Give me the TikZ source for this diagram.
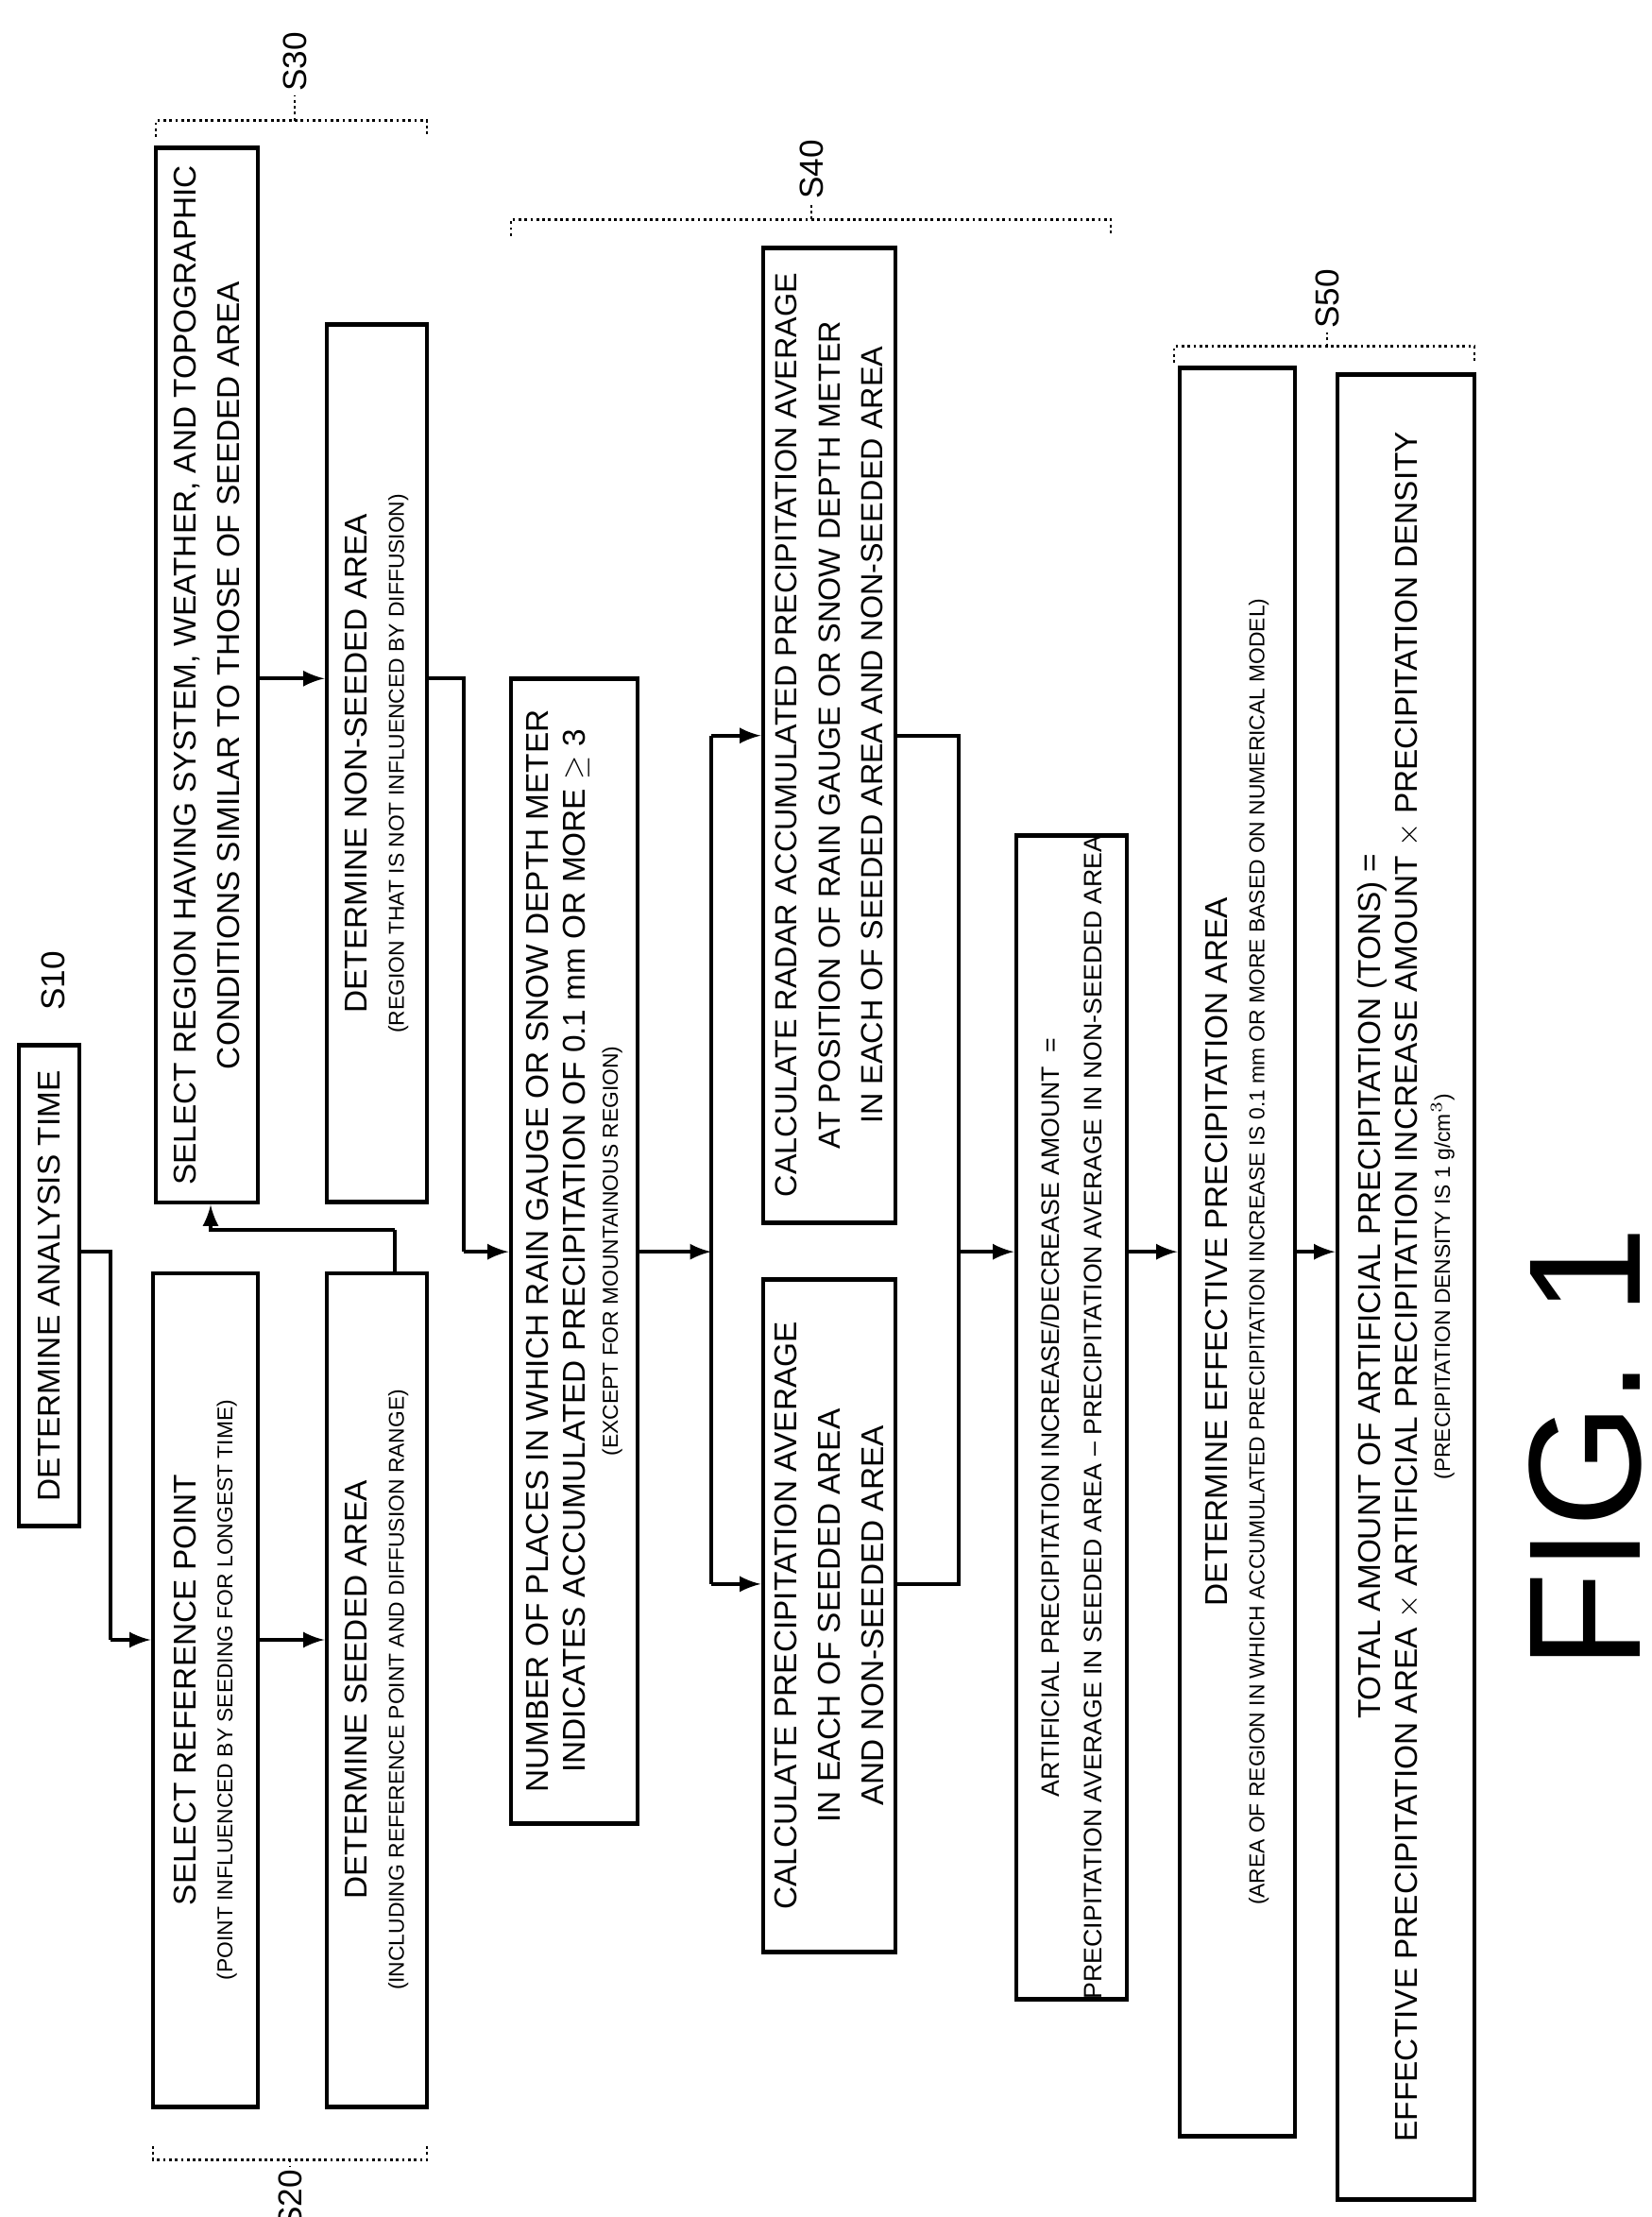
\documentclass[tikz,border=0pt]{standalone}
\usepackage{fontspec}
\setmainfont{Liberation Sans}
\usetikzlibrary{calc,positioning}

\begin{document}
\begin{tikzpicture}[
      x=0.1mm, y=-0.13426mm,
      box/.style={draw, line width=1.4pt, rotate=90, inner sep=0, align=center,
                  font={\fontsize{9.5}{13}\selectfont}},
      steplab/.style={rotate=90, inner sep=1pt, font={\fontsize{10}{11}\selectfont}},
      flow/.style={draw, line width=1.2pt, -latex},
      line/.style={draw, line width=1.2pt},
      brace/.style={draw, line width=0.8pt, densely dotted}
  ]
  \useasboundingbox (0,0) rectangle (1748,1748.1);

  \node[box, minimum width=50.9mm, minimum height=6.4mm] (dat) at (52,1014) {DETERMINE ANALYSIS TIME};
  \node[box, minimum width=88.2mm, minimum height=11.1mm] (srp) at (217.5,1332.5)
    {SELECT REFERENCE POINT\\[-2pt] {\fontsize{6.5}{8}\selectfont (POINT INFLUENCED BY SEEDING FOR LONGEST TIME)}};
  \node[box, minimum width=88.2mm, minimum height=10.6mm] (dsa) at (399,1332.5)
    {DETERMINE SEEDED AREA\\[-2pt] {\fontsize{6.5}{8}\selectfont (INCLUDING REFERENCE POINT AND DIFFUSION RANGE)}};
  \node[box, minimum width=111.6mm, minimum height=10.8mm] (sel) at (219,532.5)
    {SELECT REGION HAVING SYSTEM, WEATHER, AND TOPOGRAPHIC\\ CONDITIONS SIMILAR TO THOSE OF SEEDED AREA};
  \node[box, minimum width=92.9mm, minimum height=10.6mm] (nsa) at (399,602)
    {DETERMINE NON-SEEDED AREA\\[-2pt] {\fontsize{6.5}{8}\selectfont (REGION THAT IS NOT INFLUENCED BY DIFFUSION)}};
  \node[box, minimum width=121.2mm, minimum height=13.4mm] (np) at (608,986.5)
    {NUMBER OF PLACES IN WHICH RAIN GAUGE OR SNOW DEPTH METER\\[-2pt]
     INDICATES ACCUMULATED PRECIPITATION OF 0.1 mm OR MORE $\geq$ 3\\[-3pt]
     {\fontsize{6.5}{8}\selectfont (EXCEPT FOR MOUNTAINOUS REGION)}};
  \node[box, minimum width=71.2mm, minimum height=14mm] (cpa) at (878,1274)
    {CALCULATE PRECIPITATION AVERAGE\\ IN EACH OF SEEDED AREA\\ AND NON-SEEDED AREA};
  \node[box, minimum width=103.2mm, minimum height=14mm, font={\fontsize{9.2}{13}\selectfont}] (cra) at (878,579.5)
    {CALCULATE RADAR ACCUMULATED PRECIPITATION AVERAGE\\ AT POSITION OF RAIN GAUGE OR SNOW DEPTH METER\\ IN EACH OF SEEDED AREA AND NON-SEEDED AREA};
  \node[box, minimum width=122mm, minimum height=11.7mm, font={\fontsize{7.6}{13}\selectfont}] (ap) at (1134.5,1117.5)
    {ARTIFICIAL PRECIPITATION INCREASE/DECREASE AMOUNT \ =\\
     PRECIPITATION AVERAGE IN SEEDED AREA -- PRECIPITATION AVERAGE IN NON-SEEDED AREA};
  \node[box, minimum width=187.2mm, minimum height=12.2mm] (de) at (1310,987)
    {DETERMINE EFFECTIVE PRECIPITATION AREA\\[-2pt]
     {\fontsize{6.5}{8}\selectfont (AREA OF REGION IN WHICH ACCUMULATED PRECIPITATION INCREASE IS 0.1 mm OR MORE BASED ON NUMERICAL MODEL)}};
  \node[box, minimum width=193.2mm, minimum height=14.5mm] (tot) at (1488.5,1014.5)
    {TOTAL AMOUNT OF ARTIFICIAL PRECIPITATION (TONS) =\\[-2pt]
     EFFECTIVE PRECIPITATION AREA $\times$ ARTIFICIAL PRECIPITATION INCREASE AMOUNT $\times$ PRECIPITATION DENSITY\\[-3pt]
     {\fontsize{6.5}{8}\selectfont (PRECIPITATION DENSITY IS 1 g/cm$^3$)}};

  \coordinate (main) at (0,987);
  \coordinate (pair) at (0,1293);
  \coordinate (upper) at (0,535);
  \coordinate (rowa) at (0,580);
  \coordinate (rowb) at (0,1249);
  \coordinate (riser) at (418,0);
  \coordinate (back) at (223,0);

  \path[line] (dat.south |- main) -| (117,1293) coordinate (k1);
  \path[flow] (k1) -- (srp.north |- pair);
  \path[flow] (srp.south |- pair) -- (dsa.north |- pair);
  \path[line] (riser |- dsa.east) -- (418,970) coordinate (k3);
  \path[flow] (k3) -| (back |- sel.west);
  \path[flow] (sel.south |- upper) -- (nsa.north |- upper);
  \path[line] (nsa.south |- upper) -| (491,987) coordinate (k2);
  \path[flow] (k2) -- (np.north |- main);
  \path[flow] (np.south |- main) -- (753,987);
  \path[line] (753,580) -- (753,1249);
  \path[flow] (753,580) -- (cra.north |- rowa);
  \path[flow] (753,1249) -- (cpa.north |- rowb);
  \path[line] (cra.south |- rowa) -| (1015,1249) -- (cpa.south |- rowb);
  \path[flow] (1015,987) -- (ap.north |- main);
  \path[flow] (ap.south |- main) -- (de.north |- main);
  \path[flow] (de.south |- main) -- (tot.north |- main);

  % step brackets
  \path[brace] (162,1692) -- (162,1703) -- (452,1703) -- (452,1692);
  \path[brace] (307,1703) -- (307,1708);
  \node[steplab, anchor=east] (s20) at (307,1708) {S20};
  \path[brace] (165,108) -- (165,95) -- (452,95) -- (452,108);
  \path[brace] (312,95) -- (312,75);
  \node[steplab, anchor=west] (s30) at (312,75) {S30};
  \path[brace] (541,186) -- (541,173) -- (1176,173) -- (1176,186);
  \path[brace] (859,173) -- (859,160);
  \node[steplab, anchor=west] (s40) at (859,160) {S40};
  \path[brace] (1243,286) -- (1243,273) -- (1561,273) -- (1561,286);
  \path[brace] (1405,273) -- (1405,262);
  \node[steplab, anchor=west] (s50) at (1405,262) {S50};
  \node[steplab, anchor=west] (s10) at (56,800) {S10};

  \node[rotate=90, font={\fontsize{48}{50}\selectfont}] (fig) at (1678,1142) {FIG. 1};
\end{tikzpicture}
\end{document}
